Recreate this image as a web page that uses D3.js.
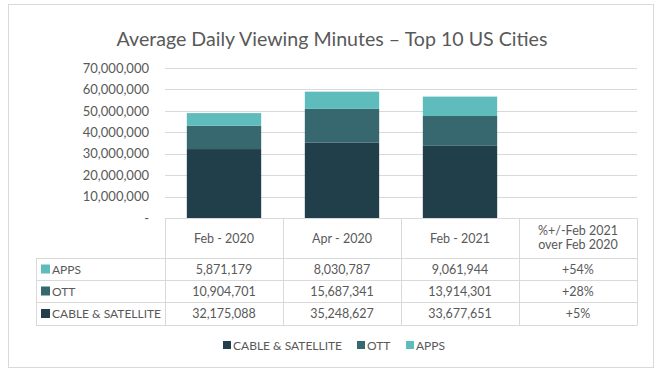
<!DOCTYPE html>
<html><head><meta charset="utf-8">
<script src="https://cdn.jsdelivr.net/npm/d3@7"></script>
<style>body{margin:0;background:#fff;}svg{display:block;font-family:Lato,"Open Sans",sans-serif;}</style>
</head><body><svg id="c" width="663" height="379"></svg>
<script>
const categories = ["Feb - 2020", "Apr - 2020", "Feb - 2021"];
const seriesNames = ["CABLE & SATELLITE", "OTT", "APPS"];
const cable = [32175088, 35248627, 33677651];
const ott = [10904701, 15687341, 13914301];
const apps = [5871179, 8030787, 9061944];
const pctChange = ["+5%", "+28%", "+54%"];
const pctHeader = ["%+/-Feb 2021", "over Feb 2020"];
const yTicks = [0, 10000000, 20000000, 30000000, 40000000, 50000000, 60000000, 70000000];
const colors = ["#213F4B", "#37686F", "#5FBCBD"];

const svg = d3.select("#c");
const textCol = "#595959", gridCol = "#D9D9D9";
// frame
svg.append("rect").attr("x", 8.5).attr("y", 4.5).attr("width", 645).attr("height", 363)
  .attr("fill", "none").attr("stroke", gridCol);

svg.append("text").attr("x", 332).attr("y", 46).attr("text-anchor", "middle")
  .attr("font-size", 19.6).attr("fill", textCol).text("Average Daily Viewing Minutes – Top 10 US Cities");

const x = d3.scaleBand().domain([...categories, "pct"]).range([165, 637]);
const y = d3.scaleLinear().domain([0, 70000000]).range([218, 68]);

// gridlines
svg.append("g").selectAll("line").data(yTicks.slice(1)).join("line")
  .attr("x1", 165).attr("x2", 637).attr("y1", d => Math.round(y(d)) + 0.5).attr("y2", d => Math.round(y(d)) + 0.5)
  .attr("stroke", gridCol).attr("stroke-width", 1);

const yAxis = d3.axisLeft(y).tickValues(yTicks).tickSize(0).tickPadding(0)
  .tickFormat(d => d === 0 ? "-" : d3.format(",")(d));
const ya = svg.append("g").attr("transform", "translate(149,0)").call(yAxis);
ya.select(".domain").remove();
ya.selectAll("text").attr("font-size", 13).attr("fill", textCol).attr("font-family", "Lato,sans-serif");

// stacked bars
const rows = categories.map((c, i) => ({cat: c, "CABLE & SATELLITE": cable[i], "OTT": ott[i], "APPS": apps[i]}));
const stack = d3.stack().keys(seriesNames)(rows);
const bw = x.bandwidth() * 0.63;
svg.append("g").selectAll("g").data(stack).join("g").attr("fill", (d, i) => colors[i])
  .selectAll("rect").data(d => d).join("rect")
  .attr("x", d => x(d.data.cat) + (x.bandwidth() - bw) / 2)
  .attr("width", bw)
  .attr("y", d => y(d[1]))
  .attr("height", d => y(d[0]) - y(d[1]));

// table
const tbl = svg.append("g");
const rowYs = [218, 258, 280, 302, 325];
const left = 36, right = 637;
const line = (x1, y1, x2, y2) => tbl.append("line").attr("x1", x1).attr("y1", y1).attr("x2", x2).attr("y2", y2)
  .attr("stroke", gridCol).attr("stroke-width", 1);
line(165, 218.5, right, 218.5);
[258, 280, 302, 325].forEach(v => line(left, v + 0.5, right, v + 0.5));
// verticals
line(left + 0.5, 258, left + 0.5, 325.5);
x.domain().forEach(d => line(Math.round(x(d)) + 0.5, 218, Math.round(x(d)) + 0.5, 325.5));
line(right + 0.5, 218, right + 0.5, 325.5);

const fs = 12;
categories.forEach(c => {
  tbl.append("text").attr("x", x(c) + x.bandwidth() / 2).attr("y", 243).attr("text-anchor", "middle")
    .attr("font-size", 12.5).attr("fill", textCol).text(c);
});
pctHeader.forEach((t, i) => {
  tbl.append("text").attr("x", x("pct") + x.bandwidth() / 2).attr("y", 235 + i * 14).attr("text-anchor", "middle")
    .attr("font-size", 12.5).attr("fill", textCol).text(t);
});
const tableRows = [
  {name: "APPS", vals: apps, pct: pctChange[2], color: colors[2]},
  {name: "OTT", vals: ott, pct: pctChange[1], color: colors[1]},
  {name: "CABLE & SATELLITE", vals: cable, pct: pctChange[0], color: colors[0]}
];
tableRows.forEach((r, i) => {
  const top = rowYs[i + 1], bot = rowYs[i + 2];
  const cy = (top + bot) / 2 + 4.5;
  tbl.append("rect").attr("x", 41).attr("y", cy - 9).attr("width", 9).attr("height", 9).attr("fill", r.color);
  tbl.append("text").attr("x", 52).attr("y", cy).attr("font-size", fs).attr("fill", textCol).text(r.name);
  r.vals.forEach((v, j) => {
    tbl.append("text").attr("x", x(categories[j]) + x.bandwidth() / 2).attr("y", cy).attr("text-anchor", "middle")
      .attr("font-size", 12.5).attr("fill", textCol).text(d3.format(",")(v));
  });
  tbl.append("text").attr("x", x("pct") + x.bandwidth() / 2).attr("y", cy).attr("text-anchor", "middle")
    .attr("font-size", 12.5).attr("fill", textCol).text(r.pct);
});

// legend
const leg = svg.append("g");
const legX = [223, 357, 406];
seriesNames.forEach((n, i) => {
  leg.append("rect").attr("x", legX[i]).attr("y", 341).attr("width", 8).attr("height", 8).attr("fill", colors[i]);
  leg.append("text").attr("x", legX[i] + 10).attr("y", 349.5).attr("font-size", fs).attr("fill", textCol).text(n);
});
</script></body></html>
